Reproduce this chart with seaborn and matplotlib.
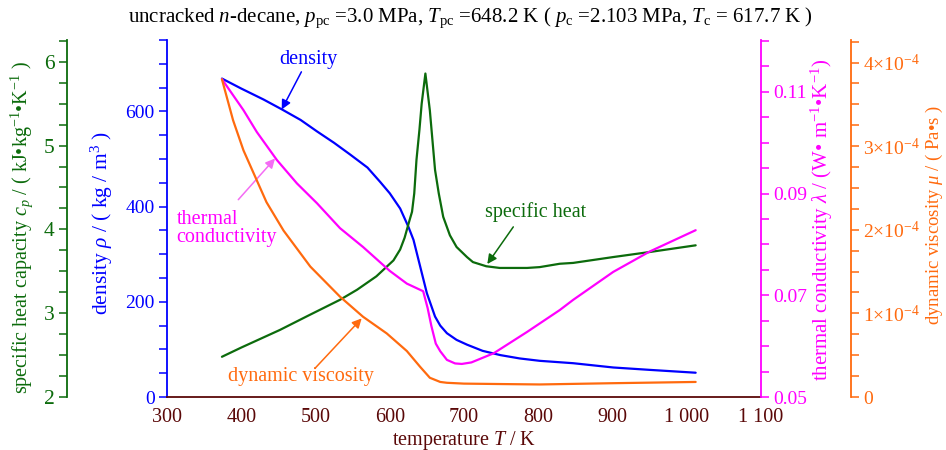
import matplotlib
matplotlib.use("Agg")
import matplotlib.pyplot as plt
from matplotlib.ticker import MultipleLocator, FixedLocator, FuncFormatter
import seaborn as sns

# ---- data: n-decane properties at 3.0 MPa ----
T_rho = [374, 400, 430, 455, 480, 502, 525, 547, 570, 587, 600, 614, 625, 632, 641,
         650, 661, 668, 677, 690, 704, 725, 749, 775, 802, 847, 901, 950, 1012]
rho = [669, 648, 625, 604, 582, 558, 534, 509, 482, 452, 428, 396, 358, 330, 274,
       218, 169, 150, 134, 120, 110, 97, 88, 81, 76, 71, 62, 57, 51]

T_cp = [374, 400, 452, 490, 533, 556, 582, 605, 614, 620, 627, 630, 633, 636, 640,
        643, 648, 654, 661, 666, 672, 681, 690, 704, 712, 730, 748, 785, 802, 829,
        847, 901, 950, 1012]
cp = [2.48, 2.59, 2.80, 2.97, 3.16, 3.28, 3.44, 3.63, 3.76, 3.90, 4.12, 4.21, 4.43,
      4.83, 5.19, 5.50, 5.86, 5.42, 4.71, 4.43, 4.15, 3.93, 3.79, 3.67, 3.61, 3.56,
      3.54, 3.54, 3.55, 3.59, 3.60, 3.67, 3.73, 3.81]

T_lam = [374, 403, 421, 448, 475, 502, 533, 564, 600, 623, 645, 651, 656, 662, 668,
         677, 688, 697, 710, 740, 785, 829, 847, 901, 950, 1012]
lam = [0.1125, 0.1064, 0.1021, 0.0966, 0.0920, 0.0881, 0.0832, 0.0795, 0.0748,
       0.0723, 0.0708, 0.0675, 0.0640, 0.0605, 0.0590, 0.0573, 0.0566, 0.0565,
       0.0568, 0.0586, 0.0628, 0.0671, 0.0691, 0.0746, 0.0786, 0.0828]

T_mu = [374, 389, 403, 421, 434, 457, 493, 533, 564, 596, 623, 641, 654, 668, 677,
        700, 749, 802, 900, 1012]
mu = [3.80e-4, 3.31e-4, 2.95e-4, 2.59e-4, 2.33e-4, 1.99e-4, 1.56e-4, 1.20e-4,
      0.96e-4, 0.76e-4, 0.55e-4, 0.36e-4, 0.23e-4, 0.18e-4, 0.17e-4, 0.16e-4,
      0.155e-4, 0.15e-4, 0.165e-4, 0.18e-4]

C_CP = "#0c6b0c"
C_RHO = "#0000ff"
C_LAM = "#ff00ff"
C_MU = "#ff6a0e"
C_X = "#5a0808"

sns.set_style("white")
plt.rcParams.update({
    "font.family": ["Liberation Serif", "DejaVu Serif"],
    "mathtext.fontset": "custom",
    "mathtext.rm": "Liberation Serif",
    "mathtext.it": "Liberation Serif:italic",
    "mathtext.bf": "Liberation Serif:bold",
    "axes.unicode_minus": True,
})

fig = plt.figure(figsize=(9.46, 4.5), dpi=100)
ax = fig.add_axes([167 / 946, 1 - 397 / 450, 594 / 946, 357 / 450])
ax_cp = ax.twinx()
ax_lam = ax.twinx()
ax_mu = ax.twinx()

LW = 1.6
sns.lineplot(x=T_cp, y=cp, ax=ax_cp, color=C_CP, lw=LW)
sns.lineplot(x=T_rho, y=rho, ax=ax, color=C_RHO, lw=LW)
sns.lineplot(x=T_lam, y=lam, ax=ax_lam, color=C_LAM, lw=LW)
sns.lineplot(x=T_mu, y=mu, ax=ax_mu, color=C_MU, lw=LW)

# ---- x axis ----
ax.set_xlim(300, 1100)
ax.xaxis.set_major_locator(MultipleLocator(100))
ax.xaxis.set_minor_locator(MultipleLocator(50))
ax.xaxis.set_major_formatter(FuncFormatter(lambda v, p: f"{int(round(v)):,}".replace(",", " ")))
ax.tick_params(axis="x", which="both", direction="in", colors=C_X, labelsize=14.5, width=1.1, pad=8)
ax.tick_params(axis="x", which="major", length=6)
ax.tick_params(axis="x", which="minor", length=4)
ax.set_xlabel("temperature $T$ / K", color=C_X, fontsize=14.5, labelpad=1)

def style_y(a, side, pos, color, lim, major, minor, fmt, label, lab_x, lab_size, lab_y=0.49):
    for s in ["top", "bottom", "left", "right"]:
        a.spines[s].set_visible(False)
    a.spines[side].set_visible(True)
    a.spines[side].set_position(("axes", pos))
    a.spines[side].set_color(color)
    a.spines[side].set_linewidth(1.3)
    a.yaxis.set_ticks_position(side)
    a.yaxis.set_label_position(side)
    a.set_ylim(*lim)
    a.yaxis.set_major_locator(major)
    a.yaxis.set_minor_locator(minor)
    a.yaxis.set_major_formatter(fmt)
    a.tick_params(axis="y", which="both", direction="out", colors=color, labelsize=14, width=1.1, pad=3)
    a.tick_params(axis="y", which="major", length=6)
    a.tick_params(axis="y", which="minor", length=6)
    a.set_ylabel(label, color=color, fontsize=lab_size)
    a.yaxis.set_label_coords(lab_x, lab_y)

style_y(ax, "left", 0.0, C_RHO, (0, 750), MultipleLocator(200), MultipleLocator(50),
        FuncFormatter(lambda v, p: f"{v:.0f}"),
        "density $\\rho$ / ( kg / m$^{3}$ )", -0.088, 15.5, 0.488)
ax.spines["bottom"].set_visible(True)
ax.spines["bottom"].set_color(C_X)
ax.spines["bottom"].set_linewidth(1.3)

style_y(ax_cp, "left", -0.1684, C_CP, (2, 6.26), MultipleLocator(1), MultipleLocator(0.25),
        FuncFormatter(lambda v, p: f"{v:.0f}"),
        "specific heat capacity $c_p$ / ( kJ\u2022kg$^{-1}$\u2022K$^{-1}$ )", -0.222, 14.5, 0.475)
ax_cp.tick_params(axis="y", labelsize=15.5)

style_y(ax_lam, "right", 1.0, C_LAM, (0.05, 0.1202), FixedLocator([0.05, 0.07, 0.09, 0.11]),
        MultipleLocator(0.005), FuncFormatter(lambda v, p: f"{v:.2f}"),
        "thermal conductivity $\\lambda$ / (W\u2022 m$^{-1}$\u2022K$^{-1}$)", 1.08, 15, 0.495)

def mu_fmt(v, p):
    if abs(v) < 1e-9:
        return "0"
    return f"{v * 1e4:.0f}\u00d710$^{{-4}}$"

style_y(ax_mu, "right", 1.1515, C_MU, (0, 4.27e-4), MultipleLocator(1e-4), MultipleLocator(0.25e-4),
        FuncFormatter(mu_fmt), "dynamic viscosity $\\mu$ / ( Pa\u2022s )", 1.274, 13.5, 0.51)
ax_mu.yaxis.get_offset_text().set_visible(False)

for a in (ax, ax_cp, ax_lam, ax_mu):
    a.set_xlim(300, 1100)
    a.patch.set_visible(False)

# ---- curve labels ----
arrow = dict(arrowstyle="-|>", mutation_scale=14, lw=1.1, shrinkA=0, shrinkB=0)
ax.annotate("density", xy=(454.5, 604), xytext=(490, 690), textcoords="data",
            color=C_RHO, fontsize=14.5, ha="center", va="bottom",
            arrowprops=dict(arrow, color=C_RHO))
ax_lam.annotate("thermal\nconductivity", xy=(313, 0.0832), color=C_LAM, fontsize=14.5,
                ha="left", va="center", linespacing=0.95)
ax_lam.annotate("", xy=(445.5, 0.0969), xytext=(396, 0.0888),
                arrowprops=dict(arrow, color="#f46cf4"))
ax_cp.annotate("specific heat", xy=(797, 4.21), color=C_CP, fontsize=14.5, ha="center", va="center")
ax_cp.annotate("", xy=(731.4, 3.587), xytext=(766.4, 4.03),
               arrowprops=dict(arrow, color=C_CP))
ax_mu.annotate("dynamic viscosity", xy=(480.5, 0.24e-4), color=C_MU, fontsize=14.5,
               ha="center", va="center")
ax_mu.annotate("", xy=(562.2, 0.94e-4), xytext=(499.3, 0.343e-4),
               arrowprops=dict(arrow, color=C_MU))

fig.text(470 / 946, 1 - 18 / 450,
         "uncracked $n$-decane, $p_{\\rm pc}$ =3.0 MPa, $T_{\\rm pc}$ =648.2 K ( $p_{\\rm c}$ =2.103 MPa, $T_{\\rm c}$ = 617.7 K )",
         ha="center", va="center", fontsize=15, color="black")

fig.savefig("out.png", dpi=100)
